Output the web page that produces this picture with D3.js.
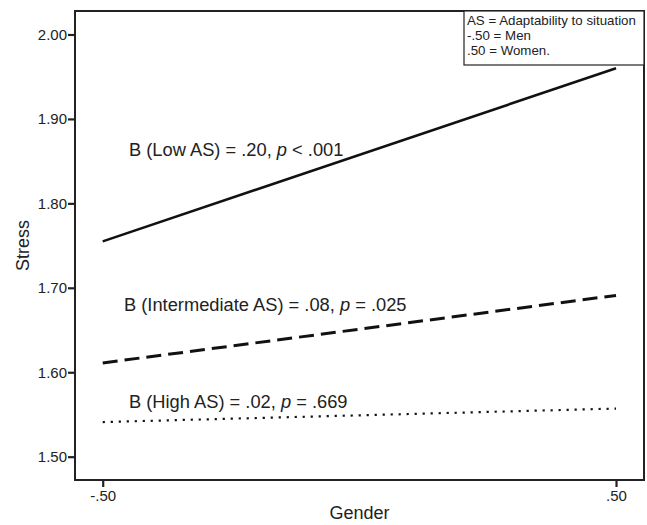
<!DOCTYPE html>
<html>
<head>
<meta charset="utf-8">
<script src="https://cdn.jsdelivr.net/npm/d3@7"></script>
<style>
  body { margin: 0; background: #fff; }
  svg { display: block; font-family: Arial, "Liberation Sans", sans-serif; }
  .tick text { font-size: 15px; font-family: Arial, "Liberation Sans", sans-serif; }
</style>
</head>
<body>
<svg id="chart" width="647" height="525"></svg>
<script>
// gender codes on the x axis
const genderValues = [-0.5, 0.5];
const xTickValues = [-0.5, 0.5];
const yTickValues = [1.5, 1.6, 1.7, 1.8, 1.9, 2.0];

// predicted stress at men / women for each level of AS
const lowAS = [1.755, 1.960];
const intermediateAS = [1.611, 1.691];
const highAS = [1.541, 1.557];

const seriesLabels = [
    { name: 'B (Low AS) = .20, ', p: 'p', rest: ' < .001' },
    { name: 'B (Intermediate AS) = .08, ', p: 'p', rest: ' = .025' },
    { name: 'B (High AS) = .02, ', p: 'p', rest: ' = .669' },
];

const noteLines = ['AS = Adaptability to situation', '-.50 = Men', '.50 = Women.'];

const svg = d3.select('#chart');
const margin = { top: 11, right: 3, bottom: 45, left: 75 };
const width = +svg.attr('width');
const height = +svg.attr('height');

const x = d3.scaleLinear()
    .domain([-0.554, 0.5545])
    .range([margin.left, width - margin.right]);

const y = d3.scaleLinear()
    .domain([1.4724, 2.0278])
    .range([height - margin.bottom, margin.top]);

// SPSS style: no leading zero, plain hyphen
const fmt = d => (d < 0 ? '-' : '') + Math.abs(d).toFixed(2).replace(/^0/, '');

function styleAxis(g) {
    g.select('.domain').remove();
    g.selectAll('line').attr('stroke', '#222').attr('stroke-width', 2.2);
    g.selectAll('text').attr('fill', '#222').style('font-size', '15px');
}

// axes
svg.append('g')
    .attr('transform', `translate(0,${height - margin.bottom})`)
    .call(d3.axisBottom(x).tickValues(xTickValues).tickFormat(fmt).tickSize(7).tickPadding(3))
    .call(styleAxis);

svg.append('g')
    .attr('transform', `translate(${margin.left},0)`)
    .call(d3.axisLeft(y).tickValues(yTickValues).tickFormat(d3.format('.2f')).tickSize(7).tickPadding(1))
    .call(styleAxis);

// frame
svg.append('rect')
    .attr('x', margin.left)
    .attr('y', margin.top)
    .attr('width', width - margin.left - margin.right)
    .attr('height', height - margin.top - margin.bottom)
    .attr('fill', 'none')
    .attr('stroke', '#222')
    .attr('stroke-width', 2);

// lines
const line = d3.line()
    .x((d, i) => x(genderValues[i]))
    .y(d => y(d));

svg.append('path')
    .attr('d', line(lowAS))
    .attr('fill', 'none')
    .attr('stroke', '#111')
    .attr('stroke-width', 2.6);

svg.append('path')
    .attr('d', line(intermediateAS))
    .attr('fill', 'none')
    .attr('stroke', '#111')
    .attr('stroke-width', 3)
    .attr('stroke-dasharray', '15,7');

svg.append('path')
    .attr('d', line(highAS))
    .attr('fill', 'none')
    .attr('stroke', '#111')
    .attr('stroke-width', 2.2)
    .attr('stroke-dasharray', '2.2,5.8');

// line labels
const labelPos = [[129, 156], [124, 311], [129, 408]];
seriesLabels.forEach((s, i) => {
    const t = svg.append('text')
        .attr('x', labelPos[i][0])
        .attr('y', labelPos[i][1])
        .attr('font-size', 18.3)
        .attr('fill', '#222');
    t.append('tspan').text(s.name);
    t.append('tspan').attr('font-style', 'italic').text(s.p);
    t.append('tspan').text(s.rest);
});

// note box
svg.append('rect')
    .attr('x', 464)
    .attr('y', margin.top)
    .attr('width', width - margin.right - 464)
    .attr('height', 54)
    .attr('fill', '#fff')
    .attr('stroke', '#222')
    .attr('stroke-width', 1.2);

svg.selectAll('text.note')
    .data(noteLines)
    .join('text')
    .attr('class', 'note')
    .attr('x', 467)
    .attr('y', (d, i) => 25 + i * 15)
    .attr('font-size', 13.3)
    .attr('fill', '#222')
    .text(d => d);

// axis titles
svg.append('text')
    .attr('x', (margin.left + width - margin.right) / 2)
    .attr('y', 519)
    .attr('text-anchor', 'middle')
    .attr('font-size', 18)
    .attr('fill', '#222')
    .text('Gender');

svg.append('text')
    .attr('transform', `translate(29,${(margin.top + height - margin.bottom) / 2}) rotate(-90)`)
    .attr('text-anchor', 'middle')
    .attr('font-size', 18)
    .attr('fill', '#222')
    .text('Stress');
</script>
</body>
</html>
